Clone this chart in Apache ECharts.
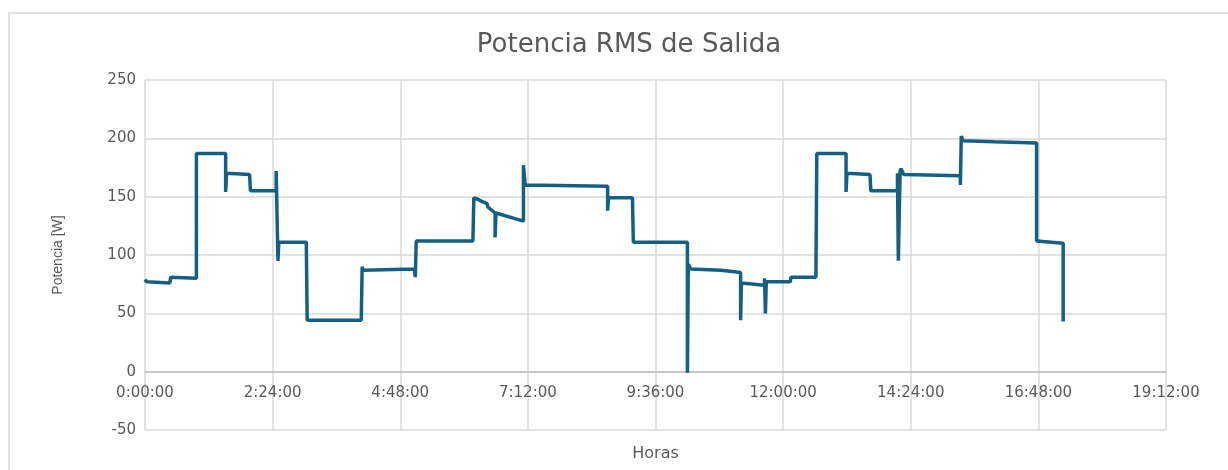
<!DOCTYPE html>
<html>
<head>
<meta charset="utf-8">
<title>Potencia RMS de Salida</title>
<script src="https://cdn.jsdelivr.net/npm/echarts@6/dist/echarts.min.js"></script>
<style>
  html, body { margin: 0; padding: 0; background: #fff; }
  #chart { width: 1228px; height: 470px; }
</style>
</head>
<body>
<div id="chart"></div>
<script>
// tiempo en minutos desde 0:00:00
var minutos = [
  0, 2, 28, 29, 58, 58, 91, 91, 92, 118, 119, 148, 148, 150, 150, 151, 182, 183,
  244, 245, 246, 304, 305, 306, 370, 371, 375, 380, 386, 387, 395, 395, 396, 427,
  427, 429, 522, 522, 523, 550, 551, 612, 612, 613, 616, 650, 672, 672, 673, 699,
  699, 700, 701, 728, 729, 757, 758, 791, 791, 792, 818, 819, 849, 849, 850, 852,
  853, 856, 920, 920, 921, 923, 958, 960, 1006, 1006, 1036, 1036
];
// potencia [W]
var potencia = [
  79, 77, 76, 81, 80, 187, 187, 154, 170, 169, 155, 155, 172, 171, 95, 111, 111, 44,
  44, 90, 87, 88, 81, 112, 112, 149, 148, 146, 144, 141, 136, 115, 136, 129,
  177, 160, 159, 138, 149, 149, 111, 111, -1, 92, 88, 87, 85, 44, 76, 74,
  80, 50, 77, 77, 81, 81, 187, 187, 154, 170, 169, 155, 155, 170, 95, 172,
  174, 169, 168, 160, 202, 198, 197, 196, 196, 112, 110, 43
];
var yTicks = { min: -50, max: 250, step: 50 };
var xTicks = { min: 0, max: 1152, step: 144 };

function hms(v) {
  var h = Math.floor(v / 60);
  var m = Math.round(v % 60);
  return h + ':' + (m < 10 ? '0' : '') + m + ':00';
}

var datos = [];
for (var i = 0; i < minutos.length; i++) {
  datos.push([minutos[i], potencia[i]]);
}

// el eje X cruza en y = 0: alto del grid 350px para 300 W
var cruceCero = -350 * (0 - yTicks.min) / (yTicks.max - yTicks.min);

var myChart = echarts.init(document.getElementById('chart'));
myChart.setOption({
  animation: false,
  textStyle: { fontFamily: 'DejaVu Sans, sans-serif' },
  graphic: [{
    type: 'rect',
    shape: { x: 9, y: 13, width: 1240, height: 470 },
    style: { fill: 'none', stroke: '#d9d9d9', lineWidth: 1.5 },
    silent: true
  }],
  title: {
    text: 'Potencia RMS de Salida',
    left: 624,
    top: 27,
    textAlign: 'center',
    textStyle: { color: '#595959', fontSize: 26, fontWeight: 'normal', fontFamily: 'DejaVu Sans' }
  },
  grid: { left: 145, right: 62, top: 80, bottom: 40, containLabel: false, outerBoundsMode: 'none' },
  xAxis: {
    type: 'value',
    min: xTicks.min,
    max: xTicks.max,
    interval: xTicks.step,
    offset: cruceCero,
    name: 'Horas',
    nameLocation: 'middle',
    nameGap: 74,
    nameTextStyle: { color: '#595959', fontSize: 16 },
    axisLine: { show: true, onZero: false, lineStyle: { color: '#bfbfbf', width: 1.5 } },
    axisTick: { show: false },
    axisLabel: { color: '#595959', fontSize: 15, margin: 14, formatter: hms },
    splitLine: { show: true, lineStyle: { color: '#d9d9d9', width: 1.5 } }
  },
  yAxis: {
    type: 'value',
    min: yTicks.min,
    max: yTicks.max,
    interval: yTicks.step,
    name: 'Potencia [W]',
    nameLocation: 'middle',
    nameRotate: 90,
    nameGap: 80,
    nameTextStyle: { color: '#595959', fontSize: 14, fontFamily: 'Liberation Sans' },
    axisLine: { show: false },
    axisTick: { show: false },
    axisLabel: { color: '#595959', fontSize: 15, margin: 9 },
    splitLine: { show: true, lineStyle: { color: '#d9d9d9', width: 1.5 } }
  },
  series: [{
    name: 'Potencia',
    type: 'line',
    data: datos,
    showSymbol: false,
    lineStyle: { color: '#156082', width: 3.5 },
    itemStyle: { color: '#156082' }
  }]
});
</script>
</body>
</html>
